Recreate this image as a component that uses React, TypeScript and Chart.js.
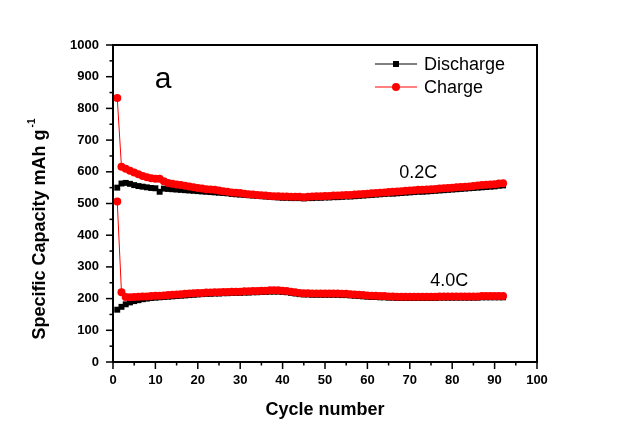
import React, { useEffect, useRef } from 'react';
import { Chart, registerables } from 'chart.js';
Chart.register(...registerables);

const FONT = '"Liberation Sans", Arial, sans-serif';

const cycles: number[] = Array.from({ length: 92 }, (_, i) => i + 1);

const charge02: number[] = [
  833, 616, 610, 603, 598, 592, 587, 583, 580, 578, 578, 570, 565, 562, 560, 558, 556, 554, 551, 549,
  547, 545, 544, 543, 541, 539, 537, 535, 534, 533, 531, 529, 528, 527, 526, 525, 524, 523, 523, 522,
  522, 521, 521, 521, 520, 521, 522, 523, 523, 524, 524, 525, 525, 526, 527, 527, 528, 529, 530, 531,
  532, 533, 534, 535, 536, 537, 538, 539, 540, 541, 542, 543, 543, 544, 545, 546, 547, 548, 549, 550,
  551, 552, 553, 554, 555, 557, 558, 559, 560, 561, 563, 564,
];
const discharge02: number[] = [
  550, 563, 565, 562, 558, 555, 553, 551, 549, 548, 537, 547, 546, 545, 544, 543, 542, 541, 540, 539,
  538, 537, 536, 535, 534, 533, 532, 530, 529, 528, 527, 526, 525, 524, 523, 522, 521, 520, 519, 518,
  518, 517, 517, 517, 516, 517, 517, 518, 518, 519, 519, 520, 520, 521, 522, 522, 523, 524, 525, 526,
  527, 528, 529, 530, 531, 531, 532, 533, 534, 535, 536, 537, 537, 538, 539, 540, 541, 542, 543, 544,
  545, 546, 547, 548, 549, 550, 551, 552, 553, 554, 556, 557,
];
const charge40: number[] = [
  506, 220, 205, 204, 205, 206, 207, 207, 208, 209, 209, 210, 211, 212, 213, 214, 215, 216, 217, 218,
  218, 219, 219, 220, 220, 221, 221, 222, 222, 222, 223, 223, 224, 224, 225, 225, 226, 226, 226, 225,
  224, 222, 220, 218, 217, 217, 216, 216, 216, 216, 216, 216, 216, 215, 215, 214, 213, 212, 211, 210,
  209, 209, 208, 208, 207, 207, 206, 206, 206, 206, 206, 206, 206, 206, 206, 206, 207, 207, 207, 207,
  207, 207, 207, 207, 207, 207, 208, 208, 208, 208, 208, 208,
];
const discharge40: number[] = [
  165, 174, 182, 188, 192, 195, 198, 200, 202, 203, 204, 205, 206, 207, 208, 209, 210, 211, 212, 213,
  214, 215, 215, 216, 216, 217, 217, 218, 218, 218, 219, 219, 220, 220, 221, 221, 222, 222, 222, 221,
  220, 218, 216, 214, 213, 213, 212, 212, 212, 212, 212, 212, 212, 211, 211, 210, 209, 208, 207, 206,
  205, 205, 204, 204, 203, 203, 202, 202, 202, 202, 202, 202, 202, 202, 202, 202, 203, 203, 203, 203,
  203, 203, 203, 203, 203, 203, 204, 204, 204, 204, 204, 204,
];

const seriesNames = ['Discharge', 'Charge'];
const rateLabels = ['0.2C', '4.0C'];
const panelLabel = 'a';
const xTitle = 'Cycle number';
const yTitle = 'Specific Capacity mAh g';
const yTitleSup = '-1';

const toXY = (ys: number[]) => ys.map((v, i) => ({ x: cycles[i], y: v }));

const decor = {
  id: 'decor',
  afterDraw(chart: any) {
    const { ctx, chartArea: a, scales } = chart;
    const x = scales.x;
    const y = scales.y;
    ctx.save();
    ctx.strokeStyle = '#000';
    ctx.lineWidth = 2;
    ctx.strokeRect(a.left, a.top, a.right - a.left, a.bottom - a.top);
    ctx.lineWidth = 1.5;
    for (let v = 0; v <= 1000; v += 50) {
      const py = y.getPixelForValue(v);
      const len = v % 100 === 0 ? 7 : 3.5;
      ctx.beginPath();
      ctx.moveTo(a.left, py);
      ctx.lineTo(a.left - len, py);
      ctx.stroke();
    }
    for (let v = 0; v <= 100; v += 5) {
      const px = x.getPixelForValue(v);
      const len = v % 10 === 0 ? 7 : 3.5;
      ctx.beginPath();
      ctx.moveTo(px, a.bottom);
      ctx.lineTo(px, a.bottom + len);
      ctx.stroke();
    }
    // axis titles
    ctx.fillStyle = '#000';
    ctx.textAlign = 'center';
    ctx.textBaseline = 'middle';
    ctx.font = `bold 18px ${FONT}`;
    ctx.fillText(xTitle, (a.left + a.right) / 2, a.bottom + 48);
    ctx.save();
    ctx.translate(40, (a.top + a.bottom) / 2 + 24);
    ctx.rotate(-Math.PI / 2);
    ctx.font = `bold 18px ${FONT}`;
    const w1 = ctx.measureText(yTitle + ' ').width;
    ctx.font = `bold 10px ${FONT}`;
    const w2 = ctx.measureText(yTitleSup).width;
    const start = -(w1 + w2) / 2;
    ctx.textAlign = 'left';
    ctx.font = `bold 18px ${FONT}`;
    ctx.fillText(yTitle, start, 0);
    ctx.font = `bold 10px ${FONT}`;
    ctx.fillText(yTitleSup, start + w1 - 3, -8);
    ctx.restore();
    // annotations
    ctx.textAlign = 'center';
    ctx.font = `30px ${FONT}`;
    ctx.fillText(panelLabel, x.getPixelForValue(11.8), y.getPixelForValue(890));
    ctx.font = `18px ${FONT}`;
    ctx.fillText(rateLabels[0], x.getPixelForValue(72), y.getPixelForValue(595));
    ctx.fillText(rateLabels[1], x.getPixelForValue(79.3), y.getPixelForValue(255));
    // legend
    const lx0 = a.left + 262;
    const lx1 = a.left + 304;
    const mx = (lx0 + lx1) / 2;
    const rows = [
      { name: seriesNames[0], color: '#000', y: a.top + 19, shape: 'rect' },
      { name: seriesNames[1], color: '#ff0000', y: a.top + 42, shape: 'circle' },
    ];
    rows.forEach((r) => {
      ctx.strokeStyle = r.color;
      ctx.lineWidth = 1;
      ctx.beginPath();
      ctx.moveTo(lx0, r.y);
      ctx.lineTo(lx1, r.y);
      ctx.stroke();
      ctx.fillStyle = r.color;
      if (r.shape === 'rect') {
        ctx.fillRect(mx - 3, r.y - 3, 6, 6);
      } else {
        ctx.beginPath();
        ctx.arc(mx, r.y, 4, 0, Math.PI * 2);
        ctx.fill();
      }
      ctx.fillStyle = '#000';
      ctx.textAlign = 'left';
      ctx.textBaseline = 'middle';
      ctx.font = `18px ${FONT}`;
      ctx.fillText(r.name, lx1 + 7, r.y + 1);
    });
    ctx.restore();
  },
};

export default function App() {
  const ref = useRef<HTMLCanvasElement>(null);
  useEffect(() => {
    if (!ref.current) return;
    const mk = (label: string, data: number[], color: string, style: string, radius: number, order: number) => ({
      label,
      data: toXY(data),
      borderColor: color,
      backgroundColor: color,
      borderWidth: 1,
      pointStyle: style,
      pointRadius: radius,
      pointBorderWidth: 0,
      pointBackgroundColor: color,
      showLine: true,
      order,
    });
    const chart = new Chart(ref.current, {
      type: 'scatter',
      data: {
        datasets: [
          mk(seriesNames[1], charge02, '#ff0000', 'circle', 4, 0),
          mk(seriesNames[1], charge40, '#ff0000', 'circle', 4, 0),
          mk(seriesNames[0], discharge02, '#000000', 'rect', 4.2, 1),
          mk(seriesNames[0], discharge40, '#000000', 'rect', 4.2, 1),
        ] as any,
      },
      options: {
        animation: false,
        responsive: false,
        maintainAspectRatio: false,
        layout: { padding: { left: 0, top: 45, right: 84, bottom: 0 } },
        plugins: { legend: { display: false }, tooltip: { enabled: false } },
        scales: {
          x: {
            type: 'linear',
            min: 0,
            max: 100,
            grid: { display: false, drawTicks: false },
            border: { display: false },
            ticks: {
              stepSize: 10,
              padding: 11,
              color: '#000',
              font: { family: FONT, size: 13, weight: 'bold' },
              maxRotation: 0,
              callback: (v: any) => String(v),
            },
            afterFit: (s: any) => { s.height = 76; },
          },
          y: {
            type: 'linear',
            min: 0,
            max: 1000,
            grid: { display: false, drawTicks: false },
            border: { display: false },
            ticks: {
              stepSize: 100,
              padding: 14,
              color: '#000',
              font: { family: FONT, size: 13, weight: 'bold' },
              callback: (v: any) => String(v),
            },
            afterFit: (s: any) => { s.width = 113; },
          },
        },
      } as any,
      plugins: [decor],
    });
    return () => chart.destroy();
  }, []);
  return (
    <div style={{ position: 'fixed', left: 0, top: 0, width: 621, height: 438, background: '#fff' }}>
      <canvas ref={ref} width={621} height={438} style={{ width: 621, height: 438, display: 'block' }} />
    </div>
  );
}
